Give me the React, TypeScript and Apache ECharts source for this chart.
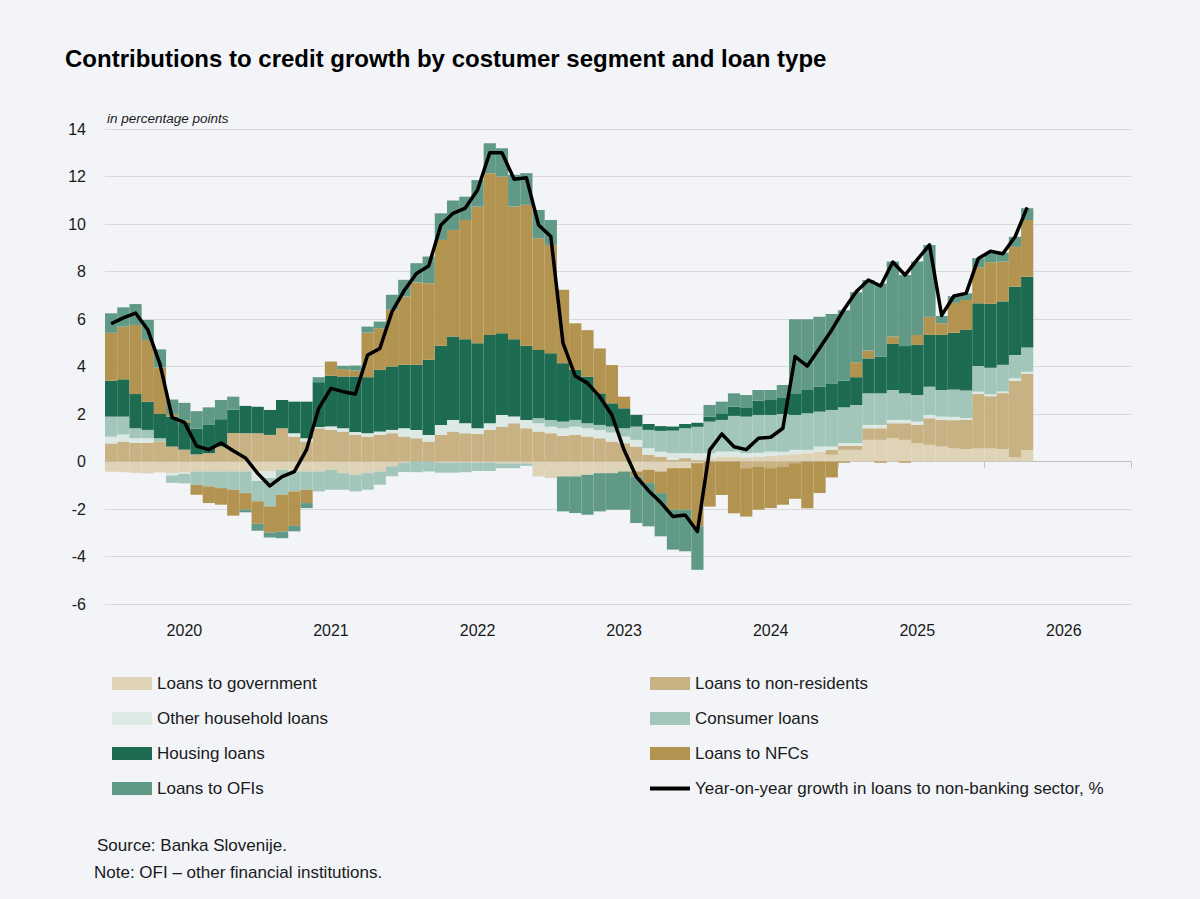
import React, { useEffect, useRef } from 'react';
import * as echarts from 'echarts';

// Monthly categories, January 2020 – December 2026
const YEARS = ['2020', '2021', '2022', '2023', '2024', '2025', '2026'];
const MONTHS = ['01', '02', '03', '04', '05', '06', '07', '08', '09', '10', '11', '12'];
const categories = YEARS.flatMap((y) => MONTHS.map((m) => `${y}-${m}`));

// Contributions in percentage points
const loansToGovernment = [
  -0.43, -0.45, -0.48, -0.5, -0.46, -0.49, -0.47, -0.42, -0.42, -0.42,
  -0.42, -0.42, -0.42, -0.42, -0.35, -0.42, -0.42, -0.42, -0.35, -0.49,
  -0.56, -0.49, -0.42, -0.2, -0.05, 0, 0, -0.05, -0.05, -0.05,
  -0.05, -0.05, -0.08, -0.08, -0.08, -0.63, -0.7, -0.63, -0.63, -0.56,
  -0.49, -0.49, -0.42, -0.42, -0.35, -0.42, -0.28, -0.28, -0.07, 0.14,
  0.21, 0.21, 0.18, 0.2, 0.24, 0.27, 0.31, 0.35, 0.42, 0.28,
  0.49, 0.49, 0.91, 0.91, 0.98, 0.91, 0.77, 0.7, 0.63, 0.55,
  0.52, 0.55, 0.55, 0.52, 0.17, 0.48,
];

const loansToNonResidents = [
  0.76, 0.84, 0.79, 0.79, 0.84, 0.63, 0.5, 0.3, 0.35, 0.63,
  1.2, 1.19, 1.19, 1.12, 1.4, 1.05, 0.84, 1.4, 1.33, 1.26,
  1.12, 1.05, 1.12, 1.19, 1.05, 0.98, 0.84, 1.12, 1.26, 1.19,
  1.16, 1.33, 1.47, 1.61, 1.4, 1.26, 1.19, 1.08, 1.12, 1.05,
  0.98, 0.84, 0.77, 0.63, 0.28, 0.2, 0.07, 0.14, 0.06, 0,
  0, 0, -0.28, -0.21, -0.28, -0.21, -0.07, 0, 0, 0.21,
  0.17, 0.17, 0.49, 0.49, 0.63, 0.7, 0.77, 1.12, 1.12, 1.19,
  1.24, 2.29, 2.2, 2.36, 3.23, 3.2,
];

const otherHouseholdLoans = [
  0.29, 0.3, 0.19, 0.19, 0, -0.1, -0.05, 0, 0, 0,
  0, 0, -0.4, -0.28, 0, 0.14, 0.14, 0.05, 0.15, 0.14,
  0.12, 0.14, 0.14, 0.14, 0.35, 0.35, 0.28, 0.42, 0.49, 0.42,
  0.24, 0.28, 0.49, 0.28, 0.35, 0.35, 0.28, 0.32, 0.35, 0.35,
  0.35, 0.38, 0.28, 0.28, 0.28, 0.21, 0.28, 0.21, 0.28, 0.21,
  0.21, 0.21, 0.17, 0.17, 0.18, 0.14, 0.18, 0.14, 0.21, 0.14,
  0.12, 0.12, 0.14, 0.14, 0.14, 0.14, 0.14, 0.14, 0.14, 0.14,
  0.07, 0.1, 0.08, 0.07, 0.1, 0.1,
];

const consumerLoans = [
  0.84, 0.75, 0.42, 0.35, 0.14, -0.31, -0.4, -0.56, -0.63, -0.7,
  -0.77, -0.91, -0.85, -1.19, -1.05, -0.84, -0.77, -0.84, -0.84, -0.7,
  -0.7, -0.7, -0.56, -0.42, -0.39, -0.45, -0.42, -0.42, -0.42, -0.4,
  -0.35, -0.35, -0.2, -0.2, -0.1, 0.21, 0.28, 0.28, 0.28, 0.21,
  0.21, 0.25, 0.35, 0.56, 0.77, 0.88, 0.95, 1.05, 1.12, 1.33,
  1.33, 1.5, 1.54, 1.59, 1.54, 1.59, 1.47, 1.54, 1.47, 1.54,
  1.5, 1.6, 1.33, 1.33, 1.26, 1.12, 1.12, 1.19, 1.12, 1.15,
  1.16, 1.08, 1.12, 1.12, 0.98, 1.02,
];

const housingLoans = [
  1.51, 1.57, 1.44, 1.19, 1.02, 1.26, 1.12, 1.08, 1.19, 1.15,
  0.98, 1.15, 1.12, 1.05, 1.19, 1.33, 1.54, 1.89, 2.13, 2.18,
  2.34, 2.36, 2.6, 2.67, 2.67, 2.74, 3.16, 3.33, 3.51, 3.54,
  3.58, 3.72, 3.44, 3.26, 3.12, 2.88, 2.81, 2.46, 2.11, 1.96,
  1.33, 0.98, 0.84, 0.49, 0.25, 0.2, 0.17, 0.18, 0.17, 0.21,
  0.28, 0.39, 0.39, 0.6, 0.63, 0.7, 0.91, 0.98, 1.05, 1.12,
  1.12, 1.17, 1.47, 1.54, 1.94, 1.99, 2.11, 2.18, 2.32, 2.39,
  2.55, 2.64, 2.69, 2.67, 2.88, 2.98,
];

const loansToNFCs = [
  2.02, 2.22, 2.91, 2.6, 1.96, 0.1, 0.1, -0.42, -0.7, -0.7,
  -1.09, -0.7, -0.95, -1.1, -1.55, -1.45, -0.56, 0, 0.6, 0.31,
  0.25, 1.88, 1.75, 2.39, 2.88, 3.47, 3.23, 4.46, 4.49, 5.02,
  5.75, 6.81, 6.6, 5.59, 5.94, 4.7, 4.56, 3.09, 1.96, 1.96,
  1.89, 1.61, 0.49, -0.21, -0.56, -0.91, -1.75, -1.75, -2.67, -1.9,
  -1.41, -2.18, -2.04, -1.82, -1.68, -1.61, -1.5, -1.97, -1.33, -0.67,
  -0.05, 0.63, 0.33, -0.05, 0.31, -0.05, 0.42, 0.77, 0.49, 1.26,
  1.26, 1.52, 1.75, 1.68, 1.68, 2.39,
];

const loansToOFIs = [
  0.82, 0.81, 0.88, 0.84, 0.76, 0.62, 0.75, 0.74, 0.74, 0.81,
  0.55, -0.11, -0.3, -0.21, -0.28, -0.23, -0.21, 0.21, 0, 0.14,
  0.21, 0.25, 0.28, 0.63, 0.7, 0.81, 1.12, 1.12, 1.24, 0.98,
  1.12, 1.26, 1.19, 1.33, 1.33, 1.19, 1.05, -1.47, -1.54, -1.68,
  -1.61, -1.54, -1.61, -1.96, -1.82, -1.82, -1.68, -1.75, -1.82, 0.49,
  0.49, 0.56, 0.52, 0.45, 0.42, 0.52, 3.12, 2.98, 2.95, 2.92,
  2.97, 2.95, 2.97, 3.09, 3.16, 2.99, 3.09, 3.02, 0.31, 0.28,
  0.28, 0.38, 0.38, 0.38, 0.42, 0.49,
];

// Year-on-year growth in loans to the non-banking sector, %
const yoyGrowth = [
  5.8, 6.05, 6.25, 5.55, 4.1, 1.85, 1.65, 0.65, 0.5, 0.78,
  0.45, 0.15, -0.5, -1.03, -0.64, -0.43, 0.5, 2.24, 3.08, 2.94,
  2.84, 4.48, 4.76, 6.31, 7.2, 7.92, 8.23, 9.96, 10.45, 10.67,
  11.43, 13.0, 13.0, 11.88, 11.95, 9.96, 9.47, 4.98, 3.6, 3.3,
  2.73, 1.96, 0.48, -0.64, -1.23, -1.73, -2.32, -2.25, -2.95, 0.48,
  1.16, 0.62, 0.5, 0.98, 1.02, 1.4, 4.42, 4.02, 4.77, 5.54,
  6.4, 7.15, 7.64, 7.39, 8.4, 7.85, 8.5, 9.12, 6.15, 6.97,
  7.08, 8.55, 8.85, 8.75, 9.45, 10.7,
];

const LINE_NAME = 'Year-on-year growth in loans to non-banking sector, %';
const FONT = '"Liberation Sans", Arial, sans-serif';
const TEXT_COLOR = '#1a1a1a';

const barDefs: [string, number[], string][] = [
  ['Loans to government', loansToGovernment, '#DFD3B7'],
  ['Loans to non-residents', loansToNonResidents, '#C8B283'],
  ['Other household loans', otherHouseholdLoans, '#DDE9E4'],
  ['Consumer loans', consumerLoans, '#A3C6BA'],
  ['Housing loans', housingLoans, '#1D6B51'],
  ['Loans to NFCs', loansToNFCs, '#B39350'],
  ['Loans to OFIs', loansToOFIs, '#609A87'],
];

export default function App() {
  const ref = useRef<HTMLDivElement>(null);

  useEffect(() => {
    if (!ref.current) return;
    const chart = echarts.init(ref.current, null, { renderer: 'svg' });

    const barSeries = barDefs.map(([name, data, color]) => ({
      name,
      type: 'bar',
      stack: 'contrib',
      data,
      barCategoryGap: '0%',
      itemStyle: { color },
      emphasis: { disabled: true },
    }));

    const legendCommon = {
      orient: 'vertical',
      padding: 0,
      itemWidth: 40,
      itemHeight: 13,
      itemGap: 18,
      icon: 'rect',
      selectedMode: false,
      textStyle: { fontSize: 17, color: TEXT_COLOR, fontFamily: FONT },
    };

    chart.setOption({
      animation: false,
      backgroundColor: '#F2F4F8',
      textStyle: { fontFamily: FONT },
      title: {
        text: 'Contributions to credit growth by costumer segment and loan type',
        left: 65,
        top: 46,
        padding: 0,
        textStyle: { fontSize: 24, fontWeight: 'bold', color: '#000', fontFamily: FONT },
      },
      grid: { left: 105, right: 69, top: 129, bottom: 295 },
      xAxis: {
        type: 'category',
        data: categories,
        boundaryGap: true,
        axisLine: { onZero: true, lineStyle: { color: '#BDBDBD', width: 1 } },
        axisTick: {
          show: true,
          interval: (i: number) => i % 12 === 0,
          length: 6,
          lineStyle: { color: '#BDBDBD' },
        },
        axisLabel: {
          interval: (i: number) => i % 12 === 6,
          formatter: (v: string) => v.slice(0, 4),
          margin: 18,
          fontSize: 16,
          color: TEXT_COLOR,
        },
        splitLine: { show: false },
      },
      yAxis: {
        type: 'value',
        min: -6,
        max: 14,
        interval: 2,
        axisLine: { show: false },
        axisTick: { show: false },
        axisLabel: { fontSize: 16, color: TEXT_COLOR, margin: 19 },
        splitLine: { lineStyle: { color: '#D9D9D9', width: 1 } },
      },
      legend: [
        {
          ...legendCommon,
          left: 112,
          top: 675,
          data: ['Loans to government', 'Other household loans', 'Housing loans', 'Loans to OFIs'],
        },
        {
          ...legendCommon,
          left: 650,
          top: 675,
          data: [
            'Loans to non-residents',
            'Consumer loans',
            'Loans to NFCs',
            { name: LINE_NAME, icon: 'path://M0 0H40V4H0Z' },
          ],
        },
      ],
      graphic: [
        {
          type: 'text',
          left: 107,
          top: 111,
          style: { text: 'in percentage points', fontSize: 13.5, fontStyle: 'italic', fill: TEXT_COLOR, fontFamily: FONT },
        },
        {
          type: 'text',
          left: 97,
          top: 837,
          style: { text: 'Source: Banka Slovenije.', fontSize: 17, fill: TEXT_COLOR, fontFamily: FONT },
        },
        {
          type: 'text',
          left: 94,
          top: 864,
          style: { text: 'Note: OFI – other financial institutions.', fontSize: 17, fill: TEXT_COLOR, fontFamily: FONT },
        },
      ],
      series: [
        ...barSeries,
        {
          name: LINE_NAME,
          type: 'line',
          data: yoyGrowth,
          symbol: 'none',
          z: 10,
          lineStyle: { color: '#000', width: 3.5, join: 'round' },
          itemStyle: { color: '#000' },
          emphasis: { disabled: true },
        },
      ],
    });

    return () => chart.dispose();
  }, []);

  return (
    <div
      ref={ref}
      style={{ position: 'absolute', left: 0, top: 0, width: 1200, height: 899 }}
    />
  );
}
